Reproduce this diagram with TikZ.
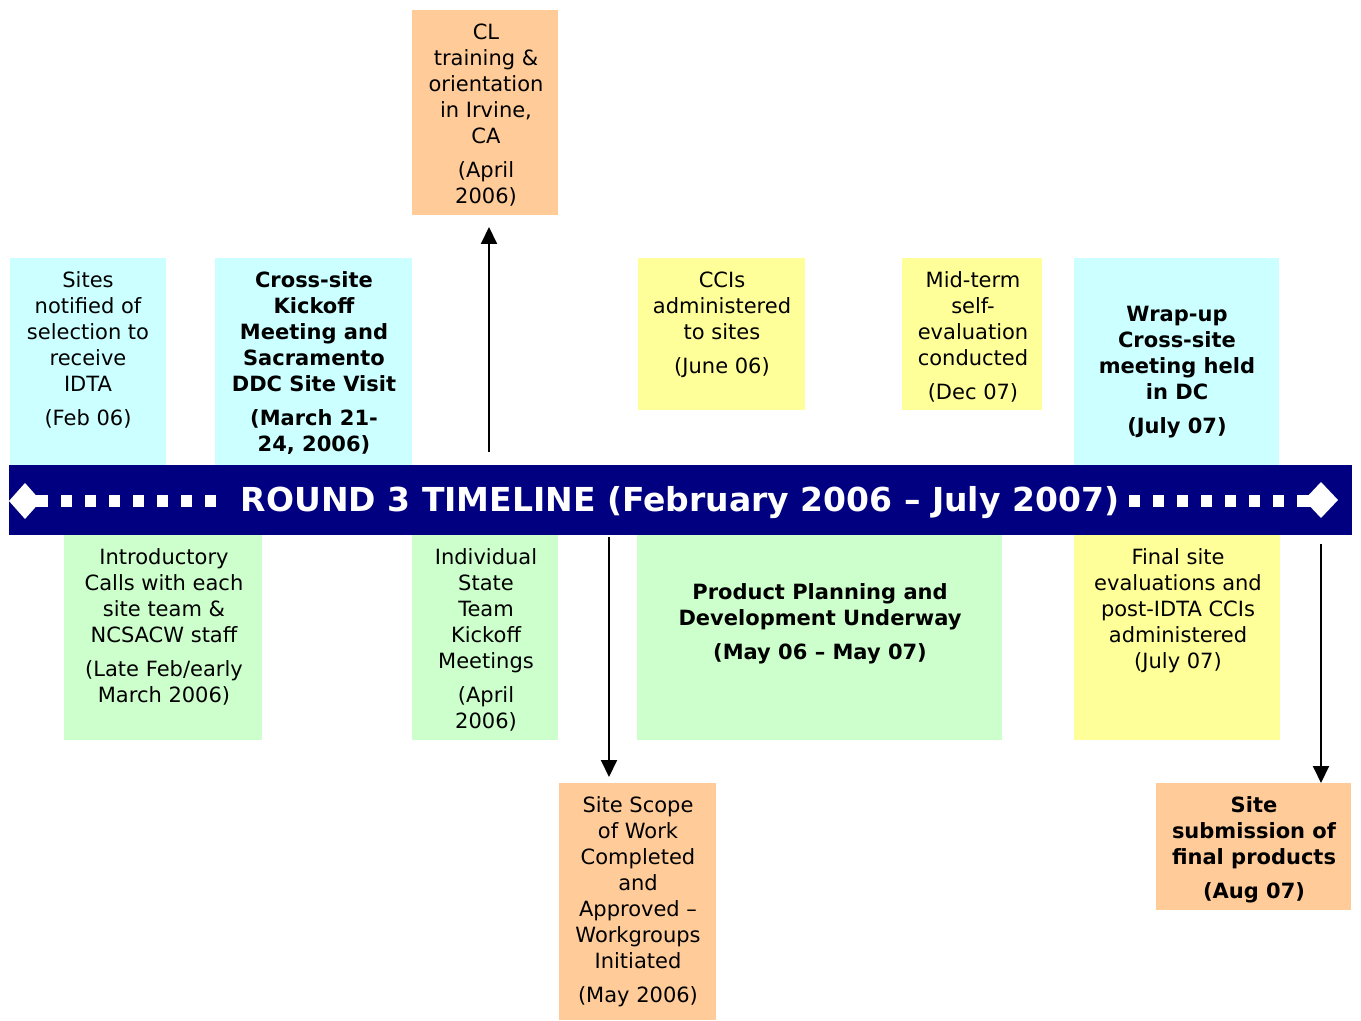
\documentclass[tikz,border=0pt]{standalone}
\usepackage{fontspec}
\setmainfont{DejaVu Sans}
\usetikzlibrary{fit,arrows.meta}
\definecolor{cyanbox}{HTML}{CCFFFF}
\definecolor{orangebox}{HTML}{FFCC99}
\definecolor{yellowbox}{HTML}{FFFF99}
\definecolor{greenbox}{HTML}{CCFFCC}
\definecolor{navyband}{HTML}{000080}
\newcommand\bodyfont{\fontsize{10.5}{13}\selectfont}
\begin{document}
\begin{tikzpicture}[x=0.5pt,y=-0.5pt,
  box/.style={inner sep=0pt,outer sep=0pt,fill=#1},
  txt/.style={align=center,inner sep=0pt,anchor=north,font=\bodyfont},
  btxt/.style={align=center,inner sep=0pt,anchor=north,font=\bodyfont\bfseries},
  arr/.style={line width=1pt,-{Triangle[width=8pt,length=8.5pt]}}]
\useasboundingbox (0,0) rectangle (1361,1021);
% boxes
\node[box=cyanbox,fit={(10,258)(166,465)}] (sites) {};
\node[box=cyanbox,fit={(215,258)(412,465)}] (cross) {};
\node[box=orangebox,fit={(412,10)(558,215)}] (cl) {};
\node[box=yellowbox,fit={(638,258)(805,410)}] (ccis) {};
\node[box=yellowbox,fit={(902,258)(1042,410)}] (mid) {};
\node[box=cyanbox,fit={(1074,258)(1279,465)}] (wrap) {};
\node[box=greenbox,fit={(64,535)(262,740)}] (intro) {};
\node[box=greenbox,fit={(412,535)(558,740)}] (indiv) {};
\node[box=greenbox,fit={(637,535)(1002,740)}] (prod) {};
\node[box=yellowbox,fit={(1074,535)(1280,740)}] (final) {};
\node[box=orangebox,fit={(559,783)(716,1020)}] (scope) {};
\node[box=orangebox,fit={(1156,783)(1351,910)}] (subm) {};
% banner
\node[box=navyband,fit={(9,465)(1352,535)}] (band) {};
\fill[white] (9,501) -- (25,483) -- (41,501) -- (25,519) -- cycle;
\fill[white] (25,495) rectangle (48,507);
\foreach \x in {61,85,...,205} \fill[white] (\x,495) rectangle ++(11,12);
\foreach \x in {1129,1153,...,1273} \fill[white] (\x,495) rectangle ++(11,12);
\fill[white] (1297,495) rectangle (1321,507);
\fill[white] (1304,500) -- (1321,482) -- (1338,500) -- (1321,518) -- cycle;
\node[text=white,font=\fontsize{16.5}{19}\selectfont\bfseries,inner sep=0pt] (title) at (680,503)
  {ROUND 3 TIMELINE (February 2006 – July 2007)};
% texts
\node[txt] (tsites) at (88,269) {\strut Sites\\notified of\\selection to\\receive\\IDTA\\[4pt](Feb 06)};
\node[btxt] (tcross) at (314,269) {\strut Cross-site\\Kickoff\\Meeting and\\Sacramento\\DDC Site Visit\\[4pt](March 21-\\24, 2006)};
\node[txt] (tcl) at (486,21) {\strut CL\\training \&\\orientation\\in Irvine,\\CA\\[4pt](April\\2006)};
\node[txt] (tccis) at (722,269) {\strut CCIs\\administered\\to sites\\[4pt](June 06)};
\node[txt] (tmid) at (973,269) {\strut Mid-term\\self-\\evaluation\\conducted\\[4pt](Dec 07)};
\node[btxt] (twrap) at (1177,303) {\strut Wrap-up\\Cross-site\\meeting held\\in DC\\[4pt](July 07)};
\node[txt] (tintro) at (164,546) {\strut Introductory\\Calls with each\\site team \&\\NCSACW staff\\[4pt](Late Feb/early\\March 2006)};
\node[txt] (tindiv) at (486,546) {\strut Individual\\State\\Team\\Kickoff\\Meetings\\[4pt](April\\2006)};
\node[btxt] (tprod) at (820,581) {\strut Product Planning and\\Development Underway\\[4pt](May 06 – May 07)};
\node[txt] (tfinal) at (1178,546) {\strut Final site\\evaluations and\\post-IDTA CCIs\\administered\\(July 07)};
\node[txt] (tscope) at (638,794) {\strut Site Scope\\of Work\\Completed\\and\\Approved –\\Workgroups\\Initiated\\[4pt](May 2006)};
\node[btxt] (tsubm) at (1254,794) {\strut Site\\submission of\\final products\\[4pt](Aug 07)};
% arrows
\coordinate (up1) at (489,452);
\coordinate (dn1) at (609,537);
\coordinate (dn2) at (1321,544);
\draw[arr,shorten >=6pt] (up1) -- (up1 |- cl.south);
\draw[arr,shorten >=3pt] (dn1) -- (dn1 |- scope.north);
\draw[arr] (dn2) -- (dn2 |- subm.north);
\end{tikzpicture}
\end{document}
